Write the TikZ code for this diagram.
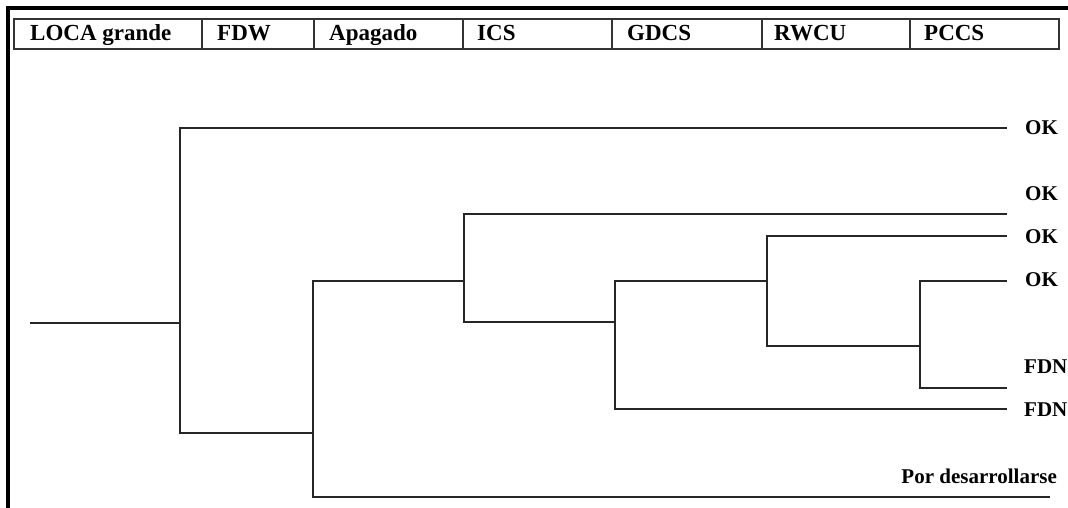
\documentclass[tikz,border=0pt]{standalone}
\usepackage{fontspec}
\setmainfont{Liberation Serif}
\begin{document}
\begin{tikzpicture}[x=1pt,y=-1pt,
  tree/.style={draw=black!85, line width=1.8pt},
  frame/.style={draw=black, line width=3.5pt},
  hdrbox/.style={draw=black!80, line width=1.6pt},
  hdr/.style={anchor=base west, inner sep=0pt, font=\bfseries\fontsize{23}{23}\selectfont},
  lbl/.style={anchor=base west, inner sep=0pt, font=\bfseries\fontsize{21}{21}\selectfont}]
\useasboundingbox (0,0) rectangle (1068,508);
% outer frame (top and left)
\draw[frame] (1068,8) -- (8,8) -- (8,508);
% header table
\draw[hdrbox] (14,19) rectangle (1059,49);
\foreach \xx in {202,314,463,612,762,910} \draw[hdrbox] (\xx,19) -- (\xx,49);
\node[hdr] (h1) at (30,41) {LOCA grande};
\node[hdr] (h2) at (217,41) {FDW};
\node[hdr] (h3) at (329,41) {Apagado};
\node[hdr] (h4) at (477,41) {ICS};
\node[hdr] (h5) at (627,41) {GDCS};
\node[hdr] (h6) at (774,41) {RWCU};
\node[hdr] (h7) at (924,41) {PCCS};
% tree coordinates
\coordinate (s)  at (30,323);
\coordinate (n1) at (180,323);
\coordinate (n2) at (313,433);
\coordinate (n3) at (464,281);
\coordinate (n4) at (615,322);
\coordinate (n5) at (767,281);
\coordinate (n6) at (920,346);
\coordinate (e1) at (1007,128);
\coordinate (e2) at (1007,214);
\coordinate (e3) at (1007,236);
\coordinate (e4) at (1007,281);
\coordinate (e5) at (1007,388);
\coordinate (e6) at (1007,409);
\coordinate (e7) at (1050,497);
% tree
\draw[tree] (s) -- (n1);
\draw[tree] (n1) |- (e1);
\draw[tree] (n1) |- (n2);
\draw[tree] (n2) |- (n3);
\draw[tree] (n2) |- (e7);
\draw[tree] (n3) |- (e2);
\draw[tree] (n3) |- (n4);
\draw[tree] (n4) |- (n5);
\draw[tree] (n4) |- (e6);
\draw[tree] (n5) |- (e3);
\draw[tree] (n5) |- (n6);
\draw[tree] (n6) |- (e4);
\draw[tree] (n6) |- (e5);
% outcome labels
\node[lbl] (o1) at (1025,135) {OK};
\node[lbl] (o2) at (1025,200) {OK};
\node[lbl] (o3) at (1025,243) {OK};
\node[lbl] (o4) at (1025,286) {OK};
\node[lbl] (o5) at (1024,373) {FDN};
\node[lbl] (o6) at (1024,416) {FDN};
\node[lbl, anchor=base east] (o7) at (1057,483) {Por desarrollarse};
\end{tikzpicture}
\end{document}
